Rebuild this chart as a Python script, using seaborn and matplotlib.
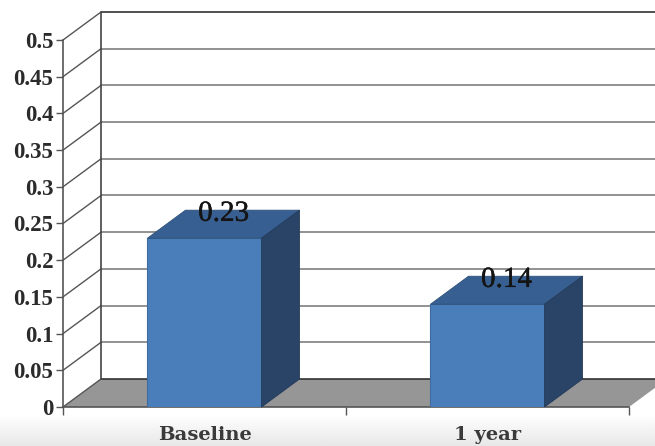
import numpy as np
import pandas as pd
import matplotlib
matplotlib.use("Agg")
import matplotlib.pyplot as plt
import matplotlib.patheffects as pe
from matplotlib.patches import Polygon
from matplotlib.ticker import FixedLocator
import seaborn as sns

categories = ["Baseline", "1 year"]
values = [0.23, 0.14]
y_ticks = [0, 0.05, 0.1, 0.15, 0.2, 0.25, 0.3, 0.35, 0.4, 0.45, 0.5]
y_tick_labels = ["0", "0.05", "0.1", "0.15", "0.2", "0.25", "0.3", "0.35", "0.4", "0.45", "0.5"]

W, H = 655, 446
LEFT, RIGHT, TOP, BOTTOM = 63, 629, 40, 407   # plot box, in pixels
BAR_WIDTH = 0.403

FRONT = "#4A7EBB"
TOP_FACE = "#375F91"
SIDE = "#2A4468"
FLOOR = "#969696"
GRID = "#7F7F7F"
AXIS = "#555555"
INK = "#2B2B2B"

sns.set_theme(style="white")
plt.rcParams["font.family"] = ["Liberation Serif", "DejaVu Serif"]

fig = plt.figure(figsize=(W / 100, H / 100), dpi=100, facecolor="white")

# faint grey fade along the bottom edge of the figure
bg = fig.add_axes([0, 0, 1, 32 / H], zorder=-1)
bg.imshow(np.linspace(1.0, 0.91, 32).reshape(-1, 1), cmap="gray", vmin=0, vmax=1,
          aspect="auto", interpolation="bilinear")
bg.axis("off")

ax = fig.add_axes([LEFT / W, (H - BOTTOM) / H, (RIGHT - LEFT) / W, (BOTTOM - TOP) / H])
ax.patch.set_alpha(0)

data = pd.DataFrame({"period": categories, "value": values})
sns.barplot(data=data, x="period", y="value", color=FRONT, saturation=1,
            width=BAR_WIDTH, edgecolor="#3F6C9F", linewidth=0.8, zorder=5, ax=ax)
ax.set_xlim(-0.5, 1.5)
ax.set_ylim(0, 0.5)
ax.set_xlabel("")
ax.set_ylabel("")

# depth of the oblique projection, in data units
dx = 38 / ((RIGHT - LEFT) / 2)
dy = 28 / ((BOTTOM - TOP) / 0.5)

# floor
ax.add_patch(Polygon([(-0.5, 0), (1.5, 0), (1.5 + dx, dy), (-0.5 + dx, dy)],
                     closed=True, facecolor=FLOOR, edgecolor="none",
                     clip_on=False, zorder=1))

# back wall and side wall rules
x_back = -0.5 + dx
for tick in y_ticks:
    rule_color = "#333333" if tick in (0, y_ticks[-1]) else GRID
    ax.plot([x_back, 1.5 + dx], [tick + dy, tick + dy], color=rule_color, lw=1.2,
            clip_on=False, zorder=2, solid_capstyle="butt")
    ax.plot([-0.5, x_back], [tick, tick + dy], color="#555555", lw=1.0,
            clip_on=False, zorder=2)
ax.plot([x_back, x_back], [dy, y_ticks[-1] + dy], color="#444444", lw=1.2,
        clip_on=False, zorder=2)

# top and side faces of each bar, then its value
for i, v in enumerate(values):
    x0, x1 = i - BAR_WIDTH / 2, i + BAR_WIDTH / 2
    ax.add_patch(Polygon([(x0, v), (x1, v), (x1 + dx, v + dy), (x0 + dx, v + dy)],
                         closed=True, facecolor=TOP_FACE, edgecolor="#2F5078",
                         linewidth=0.6, clip_on=False, zorder=6))
    ax.add_patch(Polygon([(x1, 0), (x1 + dx, dy), (x1 + dx, v + dy), (x1, v)],
                         closed=True, facecolor=SIDE, edgecolor="#233A58",
                         linewidth=0.6, clip_on=False, zorder=6))
    ax.text(i + dx / 2, v + dy * 0.87, f"{v:.2f}", ha="center", va="center",
            fontsize=21, color="#141414", zorder=7,
            path_effects=[pe.withStroke(linewidth=0.3, foreground="#141414")])

# axes
sns.despine(ax=ax, top=True, right=True)
for side in ("left", "bottom"):
    ax.spines[side].set_color(AXIS)
    ax.spines[side].set_linewidth(1.2)
    ax.spines[side].set_zorder(4)

ax.set_yticks(y_ticks)
ax.set_yticklabels(y_tick_labels, fontsize=16.5, fontweight="bold", color=INK)
ax.tick_params(axis="y", length=5, width=1, color=AXIS, pad=2, left=True)

ax.xaxis.set_minor_locator(FixedLocator([-0.5, 0.5, 1.5]))
ax.tick_params(axis="x", which="major", length=0, pad=14)
ax.tick_params(axis="x", which="minor", length=6, width=1, color=AXIS, bottom=True)
ax.set_xticks(range(len(categories)))
ax.set_xticklabels(categories, fontsize=14, fontweight="bold", color="#3A3A3A",
                   family=["DejaVu Serif"])

fig.savefig("out.png", dpi=100)
